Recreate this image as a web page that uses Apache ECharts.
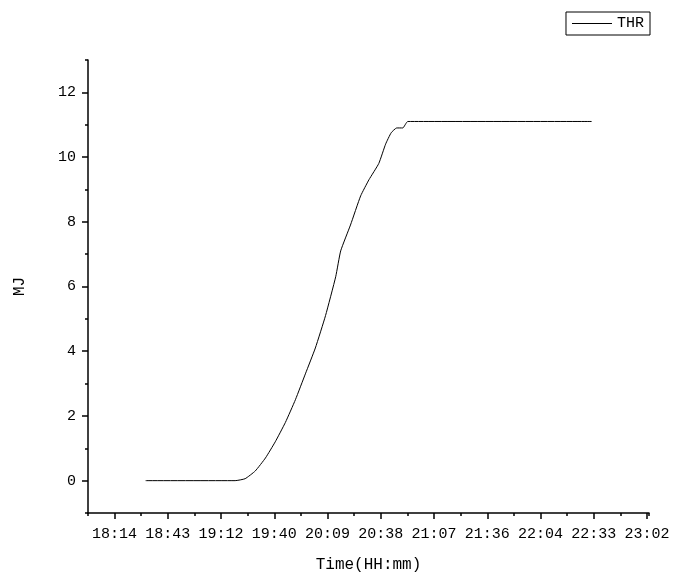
<!DOCTYPE html>
<html>
<head>
<meta charset="UTF-8">
<script src="https://cdn.jsdelivr.net/npm/echarts@6/dist/echarts.min.js"></script>
<style>body{margin:0;padding:0;} #main{width:675px;height:578px;}</style>
</head>
<body>
<div id="main"></div>
<script>
// time as minutes after 18:00
var times = [31.2, 79.6, 85, 90.5, 96, 101.3, 106.8, 112.2, 117.6, 123, 128.5, 134, 136.7, 142, 147.5, 152, 157.3, 161, 164, 167, 170.3, 173, 272.5];
var thr   = [0, 0, 0.06, 0.3, 0.7, 1.2, 1.8, 2.5, 3.3, 4.1, 5.1, 6.3, 7.1, 7.9, 8.8, 9.3, 9.8, 10.4, 10.75, 10.9, 10.9, 11.1, 11.1];
var xTicks = [14.4, 43.2, 72, 100.8, 129.6, 158.4, 187.2, 216, 244.8, 273.6, 302.4];
var yTicks = [0, 2, 4, 6, 8, 10, 12];

var data = [];
for (var i = 0; i < times.length; i++) data.push([times[i], thr[i]]);

function fmt(v) {
    var m = Math.floor(v + 1e-6) + 18 * 60;
    var h = Math.floor(m / 60), mm = m % 60;
    return h + ':' + (mm < 10 ? '0' : '') + mm;
}
var font = 'Liberation Mono';
var myChart = echarts.init(document.getElementById('main'));
myChart.setOption({
    animation: false,
    textStyle: {fontFamily: font},
    legend: {
        right: 25, top: 12, itemWidth: 40, itemHeight: 1, itemGap: 4,
        borderColor: '#000', borderWidth: 1, borderRadius: 0, padding: [4, 6],
        textStyle: {fontFamily: font, fontSize: 15, color: '#000'},
        data: [{name: 'THR', icon: 'rect'}]
    },
    grid: {left: 88, right: 26, top: 60, bottom: 65},
    xAxis: [{
        type: 'value', min: 0, max: 303.5,
        name: 'Time(HH:mm)', nameLocation: 'middle', nameGap: 44,
        nameTextStyle: {fontFamily: font, fontSize: 16, color: '#000'},
        axisLine: {onZero: false, lineStyle: {color: '#000', width: 1.5}},
        axisTick: {customValues: xTicks, length: 6, lineStyle: {color: '#000', width: 1.5}},
        axisLabel: {customValues: xTicks, formatter: fmt, fontFamily: font, fontSize: 15, color: '#000', margin: 14},
        splitLine: {show: false}
    }, {
        type: 'value', min: 0, max: 303.5, interval: 14.4, position: 'bottom',
        axisLine: {show: false, onZero: false},
        axisTick: {length: 3, lineStyle: {color: '#000', width: 1.5}},
        axisLabel: {show: false}, splitLine: {show: false}
    }],
    yAxis: [{
        type: 'value', min: -1, max: 13,
        name: 'MJ', nameLocation: 'middle', nameGap: 60,
        nameTextStyle: {fontFamily: font, fontSize: 16, color: '#000'},
        axisLine: {show: true, onZero: false, lineStyle: {color: '#000', width: 1.5}},
        axisTick: {show: true, customValues: yTicks, length: 6, lineStyle: {color: '#000', width: 1.5}},
        axisLabel: {customValues: yTicks, fontFamily: font, fontSize: 15, color: '#000', margin: 12},
        splitLine: {show: false}
    }, {
        type: 'value', min: -1, max: 13, interval: 1, position: 'left',
        axisLine: {show: false, onZero: false},
        axisTick: {show: true, length: 3, lineStyle: {color: '#000', width: 1.5}},
        axisLabel: {show: false}, splitLine: {show: false}
    }],
    series: [{
        name: 'THR', type: 'line', data: data, smooth: 0.15,
        symbol: 'none', color: '#000', lineStyle: {color: '#000', width: 1}
    }]
});
</script>
</body>
</html>
